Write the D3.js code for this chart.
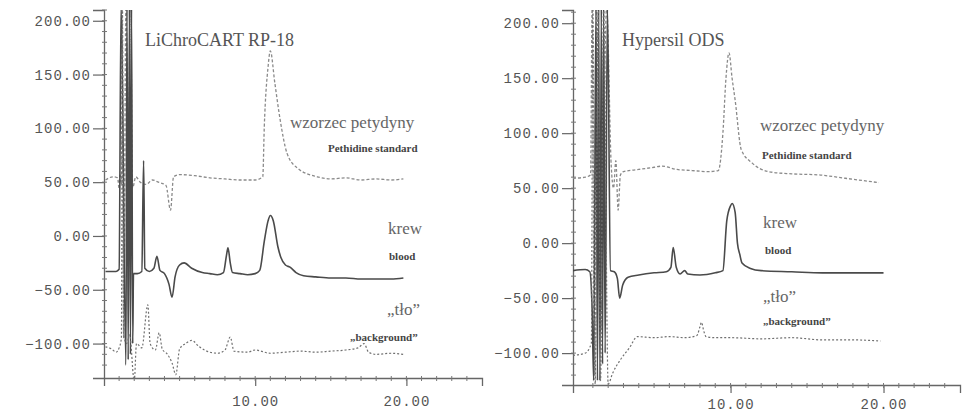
<!DOCTYPE html>
<html>
<head>
<meta charset="utf-8">
<script src="https://cdn.jsdelivr.net/npm/d3@7"></script>
<style>
  body { margin: 0; background: #fff; }
  .tick-label { font-family: "Liberation Mono", "DejaVu Sans Mono", monospace; font-size: 14px; fill: #555; letter-spacing: 1px; }
  .title { font-family: "Liberation Serif", serif; font-size: 18px; fill: #555; }
  .big { font-family: "Liberation Serif", serif; font-size: 17px; fill: #666; }
  .small { font-family: "Liberation Serif", serif; font-size: 11px; fill: #444; font-weight: bold; }
</style>
</head>
<body>
<svg width="963" height="414"></svg>
<script>
// DATA (retention time in min, detector signal)
var yTicks = [-100, -50, 0, 50, 100, 150, 200];
var xTicks = [10, 20];
var titles = ["LiChroCART RP-18", "Hypersil ODS"];
var traceNames = ["wzorzec petydyny", "Pethidine standard", "krew", "blood", "\u201etło\u201d", "\u201ebackground\u201d"];

var leftStd = [[0.1,52],[0.6,55],[0.9,54],[1.0,44],[1.05,58],[1.15,48],[1.2,215],[1.3,-95],[1.45,215],[1.6,60],[1.75,215],[1.9,45],[2.1,55],[2.4,50],[2.8,48],[3.2,52],[3.6,50],[4.1,47],[4.4,24],[4.6,55],[5.0,57],[6.0,56],[7.0,54],[8.0,53],[9.0,52],[10.0,52],[10.5,55],[10.6,101],[10.85,157],[11.0,172],[11.3,142],[11.65,108],[12.1,77],[12.8,63],[14.1,55],[15,53],[16,54],[17,52],[18,53],[19,52],[19.8,53]];
var leftBlood = [[0.1,-33],[0.8,-33],[1.0,-31],[1.13,215],[1.45,-120],[1.52,215],[1.6,-115],[1.68,215],[1.75,-110],[1.82,215],[1.9,-100],[1.95,-35],[2.2,-35],[2.5,-33],[2.62,70],[2.7,-30],[3.0,-33],[3.3,-30],[3.5,-19],[3.7,-32],[4.0,-35],[4.3,-45],[4.5,-57],[4.7,-38],[5.0,-27],[5.3,-25],[5.8,-30],[6.5,-34],[7.0,-35],[7.5,-36],[7.9,-34],[8.1,-18],[8.2,-11],[8.35,-25],[8.5,-34],[9.0,-35],[9.5,-36],[10.0,-35],[10.3,-32],[10.6,-5],[10.85,14],[11.0,19],[11.2,14],[11.5,-10],[11.7,-20],[12.0,-27],[12.3,-29],[12.7,-34],[13.2,-37],[14,-38],[15,-39],[16,-39],[17,-40],[18,-40],[19,-40],[19.8,-39]];
var leftBg = [[0.1,-103],[0.5,-105],[0.8,-108],[1.0,-104],[1.15,-95],[1.22,215],[1.3,-92],[1.5,-100],[1.7,-92],[2.0,-135],[2.15,-100],[2.5,-104],[2.9,-64],[3.05,-100],[3.4,-106],[3.65,-90],[3.85,-105],[4.2,-110],[4.5,-118],[4.75,-129],[5.0,-105],[5.4,-100],[5.8,-97],[6.3,-103],[7.0,-108],[7.5,-109],[8.0,-106],[8.35,-94],[8.6,-107],[9.5,-108],[10,-106],[11,-109],[12,-108],[13,-107],[14,-108],[15,-107],[16,-106],[16.8,-104],[17.2,-100],[17.5,-108],[18,-110],[19,-109],[19.8,-110]];

var rightStd = [[-0.3,59],[0.5,60],[0.85,62],[0.95,215],[1.1,-120],[1.25,215],[1.5,-80],[1.9,215],[2.2,70],[2.35,50],[2.5,75],[2.65,30],[2.8,62],[3.0,65],[4.0,67],[5.0,69],[5.5,70],[6.5,67],[7.5,66],[8.5,65],[9.2,66],[9.5,100],[9.7,150],[9.9,173],[10.1,150],[10.3,130],[10.7,85],[11.4,73],[12.5,65],[14,63],[15.8,62],[17.5,59],[19.7,55]];
var rightBlood = [[-0.3,-25],[0.5,-24],[0.8,-26],[0.95,-60],[1.05,-125],[1.2,215],[1.3,-125],[1.38,215],[1.46,-125],[1.55,215],[1.63,-110],[1.7,215],[1.8,-100],[1.95,215],[2.15,-25],[2.4,-26],[2.6,-32],[2.75,-50],[2.95,-38],[3.3,-31],[4.0,-29],[5.0,-27],[5.8,-26],[6.1,-22],[6.25,-4],[6.45,-22],[6.7,-28],[7.0,-25],[7.2,-28],[8.0,-29],[9.0,-27],[9.5,-25],[9.75,20],[10.0,34],[10.1,36],[10.3,28],[10.45,0],[10.6,-10],[10.75,-18],[11.3,-23],[12,-25],[14,-26],[16,-27],[18,-27],[20,-27]];
var rightBg = [[-0.3,-102],[0.5,-100],[0.9,-91],[1.0,215],[1.15,-128],[1.35,215],[1.5,-125],[1.7,215],[2.0,-128],[2.3,-118],[2.8,-106],[3.4,-95],[3.9,-85],[5,-86],[6,-85],[7,-86],[7.8,-84],[8.0,-76],[8.1,-72],[8.25,-80],[8.4,-85],[9,-86],[10,-86],[12,-87],[14,-86],[16,-88],[18,-88],[19.8,-89]];

// PANEL LAYOUT
var panels = [
  { title: titles[0], titleX: 145, xd: [0, 25], xr: [104, 482], yd: [-132, 210], yr: [378, 10],
    series: [leftStd, leftBlood, leftBg],
    lx: [290, 328, 388, 389, 387, 350], ly: [128, 152, 234, 260, 315, 341], xLabY: 18 },
  { title: titles[1], titleX: 622, xd: [-0.3, 25], xr: [573, 960], yd: [-129, 212], yr: [385, 10],
    series: [rightStd, rightBlood, rightBg],
    lx: [760, 762, 763, 765, 763, 763], ly: [131, 159, 228, 254, 302, 325], xLabY: 14 }
];

var styles = [
  { stroke: "#8a8a8a", width: 1.3, dash: "3,2" },
  { stroke: "#4a4a4a", width: 1.6, dash: null },
  { stroke: "#707070", width: 1.2, dash: "2,2" }
];

var svg = d3.select("svg");

panels.forEach(function(p, i) {
  var x = d3.scaleLinear().domain(p.xd).range(p.xr);
  var y = d3.scaleLinear().domain(p.yd).range(p.yr);
  var g = svg.append("g");

  // CLIP
  svg.append("clipPath").attr("id", "clip" + i)
    .append("rect")
    .attr("x", p.xr[0]).attr("y", p.yr[1])
    .attr("width", p.xr[1] - p.xr[0]).attr("height", p.yr[0] - p.yr[1]);

  // Y AXIS
  var yAxis = d3.axisLeft(y).tickValues(yTicks).tickSize(11).tickPadding(2)
    .tickFormat(d3.format(".2f"));
  var ya = g.append("g").attr("transform", "translate(" + p.xr[0] + ",0)").call(yAxis);
  ya.select(".domain").attr("stroke", "#666").attr("stroke-width", 1.3);
  ya.selectAll(".tick line").attr("stroke", "#666").attr("stroke-width", 1.2);
  ya.selectAll(".tick text").attr("class", "tick-label");
  g.append("g").selectAll("line")
    .data(d3.range(-120, 211, 10))
    .join("line")
    .attr("x1", p.xr[0] - 2).attr("x2", p.xr[0] + 3)
    .attr("y1", function(d) { return y(d); }).attr("y2", function(d) { return y(d); })
    .attr("stroke", "#777");

  // X AXIS
  var xAxis = d3.axisBottom(x).tickValues(xTicks).tickSize(8).tickPadding(10)
    .tickFormat(d3.format(".2f"));
  var xa = g.append("g").attr("transform", "translate(0," + p.yr[0] + ")").call(xAxis);
  xa.select(".domain").attr("stroke", "#666").attr("stroke-width", 1.3);
  xa.selectAll(".tick line").attr("stroke", "#666").attr("stroke-width", 1.2);
  xa.selectAll(".tick text").attr("class", "tick-label").attr("y", p.xLabY);
  g.append("g").selectAll("line")
    .data(d3.range(1, 25, 1))
    .join("line")
    .attr("x1", function(d) { return x(d); }).attr("x2", function(d) { return x(d); })
    .attr("y1", p.yr[0] - 2).attr("y2", p.yr[0] + 3)
    .attr("stroke", "#777");

  // TRACES
  var line = d3.line()
    .x(function(d) { return x(d[0]); })
    .y(function(d) { return y(d[1]); })
    .curve(d3.curveMonotoneX);
  var traces = g.append("g").attr("clip-path", "url(#clip" + i + ")");
  p.series.forEach(function(s, k) {
    traces.append("path")
      .attr("d", line(s))
      .attr("fill", "none")
      .attr("stroke", styles[k].stroke)
      .attr("stroke-width", styles[k].width)
      .attr("stroke-dasharray", styles[k].dash);
  });

  // TEXT
  g.append("text").attr("class", "title").attr("x", p.titleX).attr("y", 46).text(p.title);
  traceNames.forEach(function(t, k) {
    g.append("text")
      .attr("class", k % 2 == 0 ? "big" : "small")
      .attr("x", p.lx[k]).attr("y", p.ly[k])
      .text(t);
  });
});
</script>
</body>
</html>
